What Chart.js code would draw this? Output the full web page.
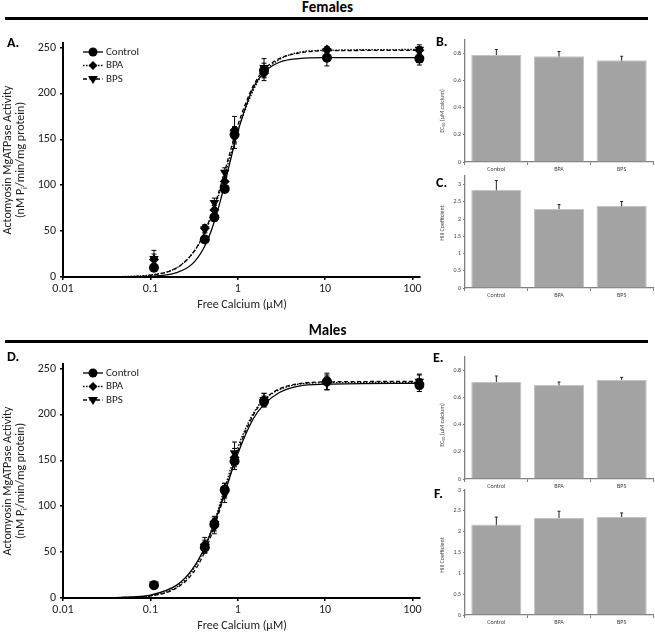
<!DOCTYPE html>
<html>
<head>
<meta charset="utf-8">
<script src="https://cdn.jsdelivr.net/npm/chart.js@4/dist/chart.umd.min.js"></script>
<style>
  body { margin: 0; background: #fff; }
  #wrap { position: relative; width: 655px; height: 633px; overflow: hidden; font-family: Carlito, Lato, "Open Sans", sans-serif; }
  canvas { position: absolute; }
  .head { position: absolute; left: 0; width: 655px; text-align: center; font-weight: bold; font-size: 15px; line-height: 15px; }
  .rule { position: absolute; left: 5px; width: 643px; height: 3px; background: #000; }
  .tag { position: absolute; font-weight: bold; font-size: 14px; line-height: 14px; }
</style>
</head>
<body>
<div id="wrap">
  <canvas id="chartA" width="440" height="300" style="left:0;top:25px"></canvas>
  <canvas id="chartB" width="225" height="150" style="left:430px;top:25px"></canvas>
  <canvas id="chartC" width="225" height="140" style="left:430px;top:165px"></canvas>
  <canvas id="chartD" width="440" height="300" style="left:0;top:346px"></canvas>
  <canvas id="chartE" width="225" height="150" style="left:430px;top:340px"></canvas>
  <canvas id="chartF" width="225" height="155" style="left:430px;top:478px"></canvas>

  <div class="head" style="top:0">Females</div>
  <div class="rule" style="top:17px"></div>
  <div class="head" style="top:323px">Males</div>
  <div class="rule" style="top:340px"></div>
  <div class="tag" style="left:7px;top:36px">A.</div>
  <div class="tag" style="left:436px;top:35px">B.</div>
  <div class="tag" style="left:436px;top:176px">C.</div>
  <div class="tag" style="left:7px;top:350px">D.</div>
  <div class="tag" style="left:433px;top:351px">E.</div>
  <div class="tag" style="left:434px;top:487px">F.</div>
</div>
<script>
// ---------- DATA ----------
const groups = ["Control", "BPA", "BPS"];

// measured points (free calcium, uM)
const calcium = [0.11, 0.42, 0.54, 0.71, 0.92, 2.0, 10.5, 120];
const femControl = [10, 41, 65, 96, 155, 225, 239, 238];
const femControlErr = [3, 3, 4, 4, 8, 8, 9, 7];
const femBPA = [19, 53, 73, 104, 160, 222, 248, 247];
const femBPAErr = [10, 4, 5, 5, 15, 8, 3, 4];
const femBPS = [20, 52, 81, 114, 152, 228, 246, 248];
const femBPSErr = [5, 4, 5, 5, 12, 10, 4, 5];

const maleControl = [14, 55, 80, 118, 149, 214, 236, 232];
const maleControlErr = [4, 6, 7, 7, 9, 6, 9, 7];
const maleBPA = [14, 58, 83, 117, 153, 216, 235, 234];
const maleBPAErr = [3, 8, 6, 8, 10, 7, 8, 9];
const maleBPS = [15, 56, 77, 113, 158, 216, 234, 236];
const maleBPSErr = [3, 7, 7, 9, 12, 7, 7, 8];

// fitted curves
const fitCalcium = [0.04, 0.1, 0.2, 0.3, 0.4, 0.5, 0.6, 0.7, 0.8, 1, 1.5, 2, 3, 5, 10, 122];
const femControlFit = [0, 0.7, 4.7, 14, 30, 51, 75, 99, 122, 158, 206, 223, 234, 238, 239, 239];
const femBPAFit = [0.3, 2.2, 10, 25, 44, 66, 88, 109, 128, 159, 203, 223, 237, 245, 247, 248];
const femBPSFit = [0.2, 1.9, 10, 25, 45, 68, 91, 113, 133, 165, 208, 226, 238, 244, 246.5, 247];
const maleControlFit = [0.4, 3.2, 14, 31, 51, 73, 94, 113, 130, 157, 195, 211, 224, 231, 233, 234];
const maleBPAFit = [0.3, 2.5, 12, 29, 50, 74, 97, 118, 136, 164, 201, 216, 227, 233, 234.5, 235];
const maleBPSFit = [0.3, 2.2, 11, 26, 46, 69, 91, 112, 131, 160, 199, 216, 228, 233.5, 235.5, 236];

// summary bars
const femEC50 = [0.79, 0.78, 0.75];
const femEC50Err = [0.04, 0.035, 0.03];
const femHill = [2.85, 2.29, 2.39];
const femHillErr = [0.27, 0.13, 0.12];
const maleEC50 = [0.715, 0.695, 0.73];
const maleEC50Err = [0.045, 0.02, 0.02];
const maleHill = [2.17, 2.33, 2.35];
const maleHillErr = [0.18, 0.16, 0.1];

// tick labels
const calciumTicks = [0.01, 0.1, 1, 10, 100];
const activityTicks = [0, 50, 100, 150, 200, 250];
const ec50Ticks = [0, 0.2, 0.4, 0.6, 0.8];
const hillTicks = [0, 0.5, 1, 1.5, 2, 2.5, 3];

// ---------- helpers ----------
const FONT = 'Carlito, Lato, "Open Sans", sans-serif';

// draw text made of [text, isSubscript] parts, centred on x,y
function drawParts(ctx, parts, x, y, size, rotate, color) {
  ctx.save();
  ctx.translate(x, y);
  if (rotate) ctx.rotate(-Math.PI / 2);
  ctx.fillStyle = color || "#222";
  ctx.textBaseline = "middle";
  ctx.textAlign = "left";
  let total = 0;
  parts.forEach(p => {
    ctx.font = (p[1] ? size * 0.7 : size) + "px " + FONT;
    total += ctx.measureText(p[0]).width;
  });
  let cx = -total / 2;
  parts.forEach(p => {
    ctx.font = (p[1] ? size * 0.7 : size) + "px " + FONT;
    ctx.fillText(p[0], cx, p[1] ? size * 0.3 : 0);
    cx += ctx.measureText(p[0]).width;
  });
  ctx.restore();
}

function drawMarker(ctx, style, x, y, r) {
  ctx.beginPath();
  if (style === "circle") ctx.arc(x, y, r, 0, Math.PI * 2);
  else if (style === "rectRot") { ctx.moveTo(x, y - r); ctx.lineTo(x + r, y); ctx.lineTo(x, y + r); ctx.lineTo(x - r, y); }
  else { ctx.moveTo(x - r, y - r * 0.6); ctx.lineTo(x + r, y - r * 0.6); ctx.lineTo(x, y + r); }
  ctx.closePath();
  ctx.fill();
}

const panelPlugin = {
  id: "panel",
  beforeDatasetsDraw(chart) {
    const ctx = chart.ctx;
    const yScale = chart.scales.y;
    chart.data.datasets.forEach((ds, i) => {
      if (!ds.errors) return;
      const meta = chart.getDatasetMeta(i);
      ctx.save();
      ctx.strokeStyle = ds.errColor || "#000";
      ctx.lineWidth = ds.errWidth || 1;
      meta.data.forEach((el, j) => {
        const v = typeof ds.data[j] === "object" ? ds.data[j].y : ds.data[j];
        const e = ds.errors[j];
        const top = yScale.getPixelForValue(v + e), bot = yScale.getPixelForValue(v - e);
        const w = ds.capWidth || 2.5;
        ctx.beginPath();
        ctx.moveTo(el.x, top); ctx.lineTo(el.x, bot);
        ctx.moveTo(el.x - w, top); ctx.lineTo(el.x + w, top);
        ctx.moveTo(el.x - w, bot); ctx.lineTo(el.x + w, bot);
        ctx.stroke();
      });
      ctx.restore();
    });
  },
  afterDraw(chart, args, opts) {
    const ctx = chart.ctx;
    (opts.texts || []).forEach(t => drawParts(ctx, t.parts, t.x, t.y, t.size, t.rotate, t.color));
    if (opts.legend) {
      const lg = opts.legend;
      lg.items.forEach((it, k) => {
        const y = lg.y + k * lg.gap;
        ctx.save();
        ctx.strokeStyle = "#000";
        ctx.fillStyle = "#000";
        ctx.lineWidth = 1.3;
        ctx.setLineDash(it.dash);
        ctx.beginPath(); ctx.moveTo(lg.x, y); ctx.lineTo(lg.x + 20, y); ctx.stroke();
        ctx.setLineDash([]);
        drawMarker(ctx, it.style, lg.x + 10, y, it.r);
        ctx.font = "11px " + FONT;
        ctx.fillStyle = "#222";
        ctx.textBaseline = "middle";
        ctx.fillText(it.label, lg.x + 23, y);
        ctx.restore();
      });
    }
  }
};
Chart.register(panelPlugin);

const seriesStyle = [
  { dash: [], style: "circle", rot: 0, r: 5 },
  { dash: [1.5, 1.5], style: "rectRot", rot: 0, r: 5 },
  { dash: [4, 2.5], style: "triangle", rot: 180, r: 5.5 }
];

function curveChart(id, fits, obs, errs) {
  const datasets = [];
  fits.forEach((f, k) => {
    datasets.push({
      data: fitCalcium.map((x, i) => ({ x, y: f[i] })),
      borderColor: "#000", borderWidth: 1.3, borderDash: seriesStyle[k].dash,
      pointRadius: 0, cubicInterpolationMode: "monotone", fill: false
    });
  });
  obs.forEach((o, k) => {
    datasets.push({
      data: calcium.map((x, i) => ({ x, y: o[i] })),
      showLine: false, pointStyle: seriesStyle[k].style, rotation: seriesStyle[k].rot,
      pointRadius: seriesStyle[k].r, backgroundColor: "#000", borderColor: "#000", borderWidth: 0,
      errors: errs[k], capWidth: 2.5, clip: 10
    });
  });
  return new Chart(document.getElementById(id), {
    type: "line",
    data: { datasets },
    options: {
      responsive: false, animation: false, devicePixelRatio: 1,
      layout: { padding: { top: 18, right: 20, left: 0, bottom: 0 } },
      scales: {
        x: {
          type: "logarithmic", min: 0.01, max: 122,
          afterBuildTicks: s => { s.ticks = calciumTicks.map(v => ({ value: v })); },
          afterFit: s => { s.height = 48; },
          ticks: { callback: v => String(v), color: "#222", font: { size: 12, family: FONT }, padding: 2, maxRotation: 0 },
          grid: { display: true, drawOnChartArea: false, tickLength: 3, color: "#000", lineWidth: 1.5 },
          border: { color: "#000", width: 2 }
        },
        y: {
          min: 0, max: 255,
          afterBuildTicks: s => { s.ticks = activityTicks.map(v => ({ value: v })); },
          afterFit: s => { s.width = 63; },
          ticks: { color: "#222", font: { size: 12, family: FONT }, padding: 4 },
          grid: { display: true, drawOnChartArea: false, tickLength: 3, color: "#000", lineWidth: 1.5 },
          border: { color: "#000", width: 2 }
        }
      },
      plugins: {
        legend: { display: false }, tooltip: { enabled: false },
        panel: {
          texts: [
            { parts: [["Actomyosin MgATPase Activity", false]], x: 8, y: 135, size: 12, rotate: true },
            { parts: [["(nM P", false], ["i", true], ["/min/mg protein)", false]], x: 21, y: 135, size: 12, rotate: true },
            { parts: [["Free Calcium (\u00b5M)", false]], x: 242, y: 280, size: 12 }
          ],
          legend: {
            x: 83, y: 27, gap: 13.5,
            items: groups.map((g, k) => ({ label: g, dash: seriesStyle[k].dash, style: seriesStyle[k].style, r: seriesStyle[k].r * 0.9 }))
          }
        }
      }
    }
  });
}

function barChart(id, values, errs, max, ticks, padTop, axisH, title, titleY) {
  return new Chart(document.getElementById(id), {
    type: "bar",
    data: {
      labels: groups,
      datasets: [{
        data: values, backgroundColor: "#a3a3a3", borderColor: "#c4c4c4", borderWidth: 1,
        barPercentage: 0.8, categoryPercentage: 1,
        errors: errs, errColor: "#222", errWidth: 1, capWidth: 1.5
      }]
    },
    options: {
      responsive: false, animation: false, devicePixelRatio: 1,
      layout: { padding: { top: padTop, right: 2, left: 0, bottom: 0 } },
      scales: {
        x: {
          afterFit: s => { s.height = axisH; },
          ticks: { color: "#444", font: { size: 6, family: FONT }, padding: 1, maxRotation: 0 },
          grid: { display: true, offset: true, drawOnChartArea: false, tickLength: 3, color: "#808080", lineWidth: 1 },
          border: { color: "#808080", width: 1.3 }
        },
        y: {
          min: 0, max: max,
          afterBuildTicks: s => { s.ticks = ticks.map(v => ({ value: v })); },
          afterFit: s => { s.width = 35; },
          ticks: { callback: v => String(v), color: "#444", font: { size: 6, family: FONT }, padding: 2 },
          grid: { display: true, drawOnChartArea: false, tickLength: 2, color: "#808080", lineWidth: 1 },
          border: { color: "#808080", width: 1.3 }
        }
      },
      plugins: {
        legend: { display: false }, tooltip: { enabled: false },
        panel: { texts: [{ parts: title, x: 12, y: titleY, size: 6, rotate: true, color: "#444" }] }
      }
    }
  });
}

const ec50Title = [["EC", false], ["50", true], [" (\u00b5M calcium)", false]];
const hillTitle = [["Hill Coefficient", false]];

curveChart("chartA", [femControlFit, femBPAFit, femBPSFit], [femControl, femBPA, femBPS], [femControlErr, femBPAErr, femBPSErr]);
curveChart("chartD", [maleControlFit, maleBPAFit, maleBPSFit], [maleControl, maleBPA, maleBPS], [maleControlErr, maleBPAErr, maleBPSErr]);
barChart("chartB", femEC50, femEC50Err, 0.9, ec50Ticks, 15, 13, ec50Title, 86);
barChart("chartC", femHill, femHillErr, 3.25, hillTicks, 11, 17, hillTitle, 58);
barChart("chartE", maleEC50, maleEC50Err, 0.9, ec50Ticks, 17, 11, ec50Title, 85);
barChart("chartF", maleHill, maleHillErr, 3, hillTicks, 12, 18, hillTitle, 77);
</script>
</body>
</html>
